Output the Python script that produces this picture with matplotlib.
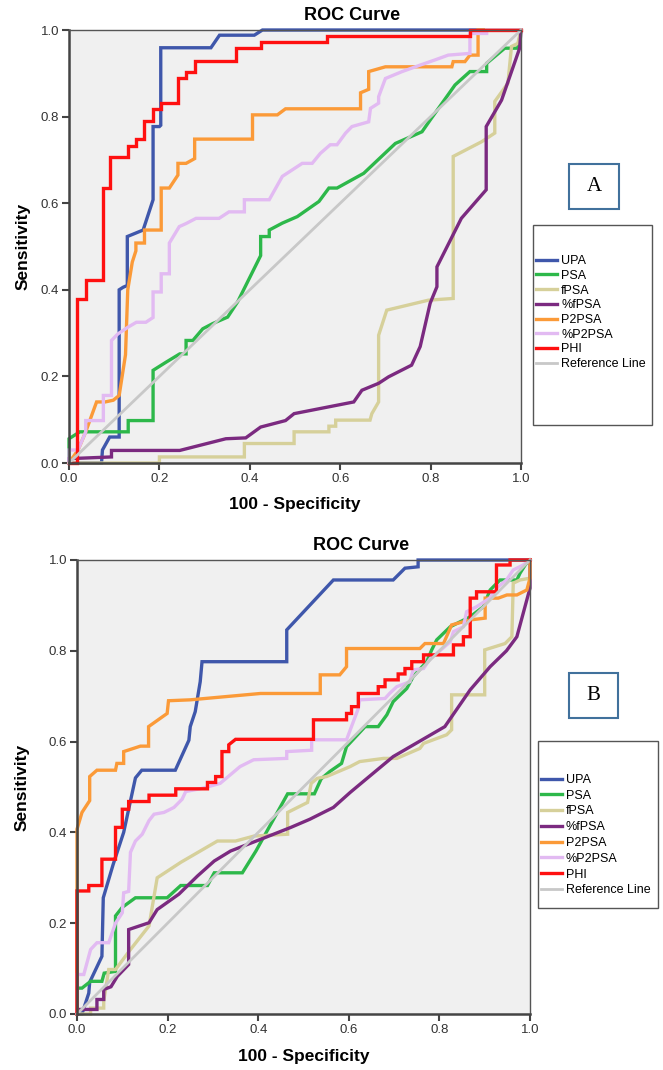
import matplotlib
matplotlib.use("Agg")
import matplotlib.pyplot as plt
from matplotlib.patches import Rectangle

plt.rcParams['font.family'] = ['Liberation Sans', 'DejaVu Sans']

labels = ['UPA', 'PSA', 'fPSA', '%fPSA', 'P2PSA', '%P2PSA', 'PHI', 'Reference Line']
colors = ['#3f57ab', '#2db84a', '#d6d09a', '#7b2a80', '#fb9a38', '#e2baf2', '#ff1010', '#c8c8c8']

# ---- panel A ----
a_upa_x = [0, 0.072, 0.074, 0.09, 0.111, 0.111, 0.12, 0.129, 0.129, 0.164, 0.186, 0.186, 0.2, 0.203, 0.203, 0.314, 0.333, 0.41, 0.428, 1.0]
a_upa_y = [0, 0, 0.03, 0.06, 0.06, 0.40, 0.406, 0.41, 0.523, 0.538, 0.608, 0.777, 0.777, 0.78, 0.959, 0.959, 0.988, 0.988, 1.0, 1.0]

a_psa_x = [0, 0, 0.024, 0.131, 0.131, 0.186, 0.186, 0.215, 0.245, 0.259, 0.259, 0.274, 0.296, 0.318, 0.351, 0.373, 0.424, 0.424, 0.443, 0.443,
           0.472, 0.505, 0.553, 0.575, 0.593, 0.652, 0.722, 0.781, 0.799, 0.854, 0.887, 0.924, 0.924, 0.964, 0.993, 1.0]
a_psa_y = [0, 0.056, 0.072, 0.072, 0.098, 0.098, 0.214, 0.233, 0.252, 0.252, 0.283, 0.283, 0.31, 0.322, 0.337, 0.372, 0.479, 0.523, 0.523, 0.538,
           0.554, 0.569, 0.604, 0.635, 0.635, 0.669, 0.738, 0.765, 0.792, 0.873, 0.904, 0.904, 0.923, 0.958, 0.958, 1.0]

a_fpsa_x = [0, 0.2, 0.2, 0.388, 0.388, 0.498, 0.498, 0.575, 0.575, 0.59, 0.59, 0.666, 0.67, 0.685, 0.685, 0.703, 0.795, 0.85, 0.85,
            0.913, 0.942, 0.942, 0.971, 0.979, 0.993, 1.0]
a_fpsa_y = [0, 0, 0.014, 0.014, 0.045, 0.045, 0.072, 0.072, 0.085, 0.085, 0.099, 0.099, 0.114, 0.141, 0.295, 0.353, 0.376, 0.38, 0.708,
            0.742, 0.762, 0.835, 0.877, 0.962, 0.969, 1.0]

a_pfpsa_x = [0, 0, 0.094, 0.094, 0.245, 0.347, 0.391, 0.424, 0.479, 0.498, 0.630, 0.648, 0.685, 0.707, 0.758, 0.777, 0.799, 0.814,
             0.814, 0.868, 0.923, 0.923, 0.957, 0.997, 1.0]
a_pfpsa_y = [0, 0.01, 0.014, 0.029, 0.029, 0.056, 0.058, 0.083, 0.098, 0.114, 0.141, 0.168, 0.184, 0.199, 0.226, 0.269, 0.369, 0.407,
             0.453, 0.565, 0.631, 0.777, 0.838, 0.958, 1.0]

a_p2psa_x = [0, 0.02, 0.037, 0.061, 0.08, 0.098, 0.111, 0.125, 0.13, 0.14, 0.148, 0.148, 0.167, 0.167, 0.204, 0.204, 0.222, 0.241,
             0.241, 0.259, 0.278, 0.278, 0.406, 0.406, 0.461, 0.479, 0.645, 0.645, 0.663, 0.663, 0.70, 0.847, 0.85, 0.876, 0.887,
             0.905, 0.905, 1.0]
a_p2psa_y = [0, 0.03, 0.072, 0.141, 0.141, 0.145, 0.156, 0.25, 0.40, 0.464, 0.49, 0.508, 0.508, 0.538, 0.538, 0.635, 0.635, 0.665,
             0.692, 0.692, 0.703, 0.748, 0.748, 0.804, 0.804, 0.818, 0.818, 0.855, 0.863, 0.904, 0.915, 0.915, 0.927, 0.927, 0.942,
             0.942, 1.0, 1.0]

a_pp2psa_x = [0, 0, 0.02, 0.037, 0.037, 0.076, 0.076, 0.094, 0.094, 0.108, 0.131, 0.149, 0.17, 0.186, 0.186, 0.204, 0.204, 0.222,
              0.222, 0.244, 0.259, 0.281, 0.332, 0.354, 0.388, 0.388, 0.443, 0.472, 0.516, 0.538, 0.556, 0.578, 0.593, 0.612,
              0.626, 0.663, 0.667, 0.685, 0.685, 0.70, 0.737, 0.777, 0.81, 0.839, 0.887, 0.887, 0.924, 0.924, 1.0]
a_pp2psa_y = [0, 0.03, 0.03, 0.072, 0.098, 0.098, 0.156, 0.156, 0.283, 0.298, 0.314, 0.325, 0.325, 0.336, 0.395, 0.395, 0.437,
              0.437, 0.508, 0.546, 0.553, 0.565, 0.565, 0.58, 0.58, 0.608, 0.608, 0.662, 0.692, 0.692, 0.715, 0.735, 0.735,
              0.762, 0.777, 0.788, 0.819, 0.831, 0.846, 0.888, 0.904, 0.919, 0.931, 0.942, 0.946, 0.992, 0.992, 1.0, 1.0]

a_phi_x = [0, 0.018, 0.018, 0.037, 0.037, 0.075, 0.075, 0.09, 0.09, 0.131, 0.131, 0.149, 0.149, 0.167, 0.167, 0.186, 0.186, 0.203,
           0.203, 0.241, 0.241, 0.259, 0.259, 0.278, 0.278, 0.369, 0.369, 0.424, 0.424, 0.571, 0.571, 0.887, 0.887, 1.0]
a_phi_y = [0, 0.0, 0.379, 0.379, 0.422, 0.422, 0.635, 0.635, 0.706, 0.706, 0.733, 0.733, 0.748, 0.748, 0.79, 0.79, 0.818, 0.818,
           0.832, 0.832, 0.888, 0.888, 0.904, 0.904, 0.929, 0.929, 0.959, 0.959, 0.973, 0.973, 0.986, 0.986, 1.0, 1.0]

# ---- panel B ----
b_upa_x = [0, 0.011, 0.026, 0.028, 0.055, 0.058, 0.08, 0.103, 0.129, 0.143, 0.217, 0.247, 0.25, 0.261, 0.272, 0.276, 0.463, 0.463,
           0.566, 0.698, 0.724, 0.753, 0.753, 1.0]
b_upa_y = [0, 0, 0.046, 0.07, 0.127, 0.256, 0.33, 0.4, 0.52, 0.537, 0.537, 0.603, 0.633, 0.666, 0.732, 0.776, 0.776, 0.846,
           0.956, 0.956, 0.982, 0.985, 1.0, 1.0]

b_psa_x = [0, 0, 0.011, 0.03, 0.055, 0.06, 0.085, 0.085, 0.1, 0.129, 0.199, 0.229, 0.288, 0.303, 0.365, 0.395, 0.465, 0.524, 0.539,
           0.558, 0.584, 0.595, 0.636, 0.665, 0.684, 0.698, 0.728, 0.742, 0.772, 0.783, 0.794, 0.824, 0.868, 0.897, 0.912, 0.934,
           0.971, 0.978, 0.99, 1.0]
b_psa_y = [0, 0.057, 0.057, 0.072, 0.072, 0.09, 0.094, 0.216, 0.235, 0.256, 0.256, 0.283, 0.283, 0.311, 0.311, 0.359, 0.485, 0.485,
           0.518, 0.534, 0.552, 0.589, 0.633, 0.633, 0.659, 0.688, 0.717, 0.743, 0.776, 0.802, 0.824, 0.853, 0.875, 0.897, 0.934,
           0.956, 0.956, 0.971, 0.99, 1.0]

b_fpsa_x = [0, 0.03, 0.03, 0.059, 0.059, 0.07, 0.085, 0.118, 0.159, 0.177, 0.229, 0.31, 0.35, 0.391, 0.465, 0.465, 0.509, 0.517,
            0.53, 0.551, 0.603, 0.624, 0.677, 0.706, 0.757, 0.765, 0.816, 0.827, 0.827, 0.9, 0.9, 0.945, 0.96, 0.963, 0.978, 1.0, 1.0]
b_fpsa_y = [0, 0, 0.013, 0.013, 0.028, 0.098, 0.098, 0.142, 0.194, 0.3, 0.334, 0.381, 0.381, 0.392, 0.396, 0.444, 0.466, 0.508,
            0.519, 0.523, 0.545, 0.556, 0.563, 0.563, 0.585, 0.596, 0.615, 0.626, 0.703, 0.703, 0.802, 0.816, 0.831, 0.949, 0.956, 0.96, 1.0]

b_pfpsa_x = [0, 0, 0.044, 0.044, 0.059, 0.059, 0.075, 0.089, 0.114, 0.114, 0.159, 0.177, 0.225, 0.266, 0.303, 0.339, 0.406, 0.472,
             0.514, 0.566, 0.603, 0.639, 0.698, 0.812, 0.868, 0.912, 0.948, 0.971, 1.0, 1.0]
b_pfpsa_y = [0, 0.01, 0.01, 0.032, 0.032, 0.054, 0.06, 0.083, 0.109, 0.186, 0.201, 0.23, 0.264, 0.304, 0.337, 0.359, 0.385, 0.411,
             0.429, 0.455, 0.488, 0.518, 0.567, 0.633, 0.714, 0.765, 0.8, 0.831, 0.938, 1.0]

b_p2psa_x = [0, 0, 0.011, 0.028, 0.028, 0.044, 0.085, 0.088, 0.103, 0.103, 0.14, 0.158, 0.158, 0.199, 0.202, 0.25, 0.405, 0.537,
             0.537, 0.58, 0.595, 0.595, 0.757, 0.768, 0.809, 0.827, 0.853, 0.868, 0.901, 0.901, 0.93, 0.949, 0.971, 0.993, 1.0, 1.0]
b_p2psa_y = [0, 0.407, 0.444, 0.47, 0.523, 0.537, 0.537, 0.552, 0.552, 0.578, 0.59, 0.59, 0.633, 0.662, 0.69, 0.692, 0.706, 0.706,
             0.747, 0.747, 0.765, 0.805, 0.805, 0.816, 0.816, 0.857, 0.864, 0.868, 0.872, 0.916, 0.916, 0.923, 0.923, 0.934, 0.96, 1.0]

b_pp2psa_x = [0, 0, 0.015, 0.03, 0.044, 0.07, 0.085, 0.1, 0.103, 0.114, 0.118, 0.129, 0.144, 0.159, 0.17, 0.192, 0.214, 0.232, 0.24,
              0.276, 0.316, 0.36, 0.39, 0.463, 0.463, 0.518, 0.518, 0.595, 0.621, 0.624, 0.68, 0.69, 0.706, 0.735, 0.742, 0.765,
              0.78, 0.794, 0.824, 0.831, 0.853, 0.86, 0.882, 0.911, 0.926, 0.948, 0.963, 0.985, 1.0]
b_pp2psa_y = [0, 0.087, 0.087, 0.142, 0.157, 0.157, 0.2, 0.223, 0.267, 0.27, 0.356, 0.381, 0.396, 0.426, 0.44, 0.444, 0.455, 0.473,
              0.49, 0.497, 0.508, 0.545, 0.56, 0.563, 0.578, 0.581, 0.604, 0.604, 0.673, 0.692, 0.695, 0.706, 0.721, 0.732, 0.758,
              0.761, 0.783, 0.794, 0.82, 0.842, 0.853, 0.886, 0.897, 0.916, 0.938, 0.956, 0.978, 0.989, 1.0]

b_phi_x = [0, 0, 0.026, 0.026, 0.055, 0.055, 0.085, 0.085, 0.1, 0.1, 0.114, 0.114, 0.159, 0.159, 0.218, 0.218, 0.288, 0.288, 0.306,
           0.306, 0.32, 0.32, 0.335, 0.335, 0.35, 0.522, 0.522, 0.595, 0.595, 0.606, 0.606, 0.621, 0.621, 0.665, 0.665, 0.68, 0.68,
           0.709, 0.709, 0.724, 0.724, 0.739, 0.739, 0.765, 0.765, 0.831, 0.831, 0.853, 0.853, 0.868, 0.868, 0.882, 0.882, 0.926,
           0.926, 0.956, 0.956, 1.0]
b_phi_y = [0, 0.271, 0.271, 0.283, 0.283, 0.341, 0.341, 0.411, 0.411, 0.451, 0.451, 0.468, 0.468, 0.482, 0.482, 0.496, 0.496, 0.51,
           0.51, 0.523, 0.523, 0.578, 0.578, 0.593, 0.605, 0.605, 0.648, 0.648, 0.662, 0.662, 0.677, 0.677, 0.706, 0.706, 0.721,
           0.721, 0.736, 0.736, 0.749, 0.749, 0.761, 0.761, 0.776, 0.776, 0.791, 0.791, 0.813, 0.813, 0.831, 0.831, 0.916, 0.916,
           0.930, 0.930, 0.989, 0.989, 1.0, 1.0]

ref_x = [0, 1]
ref_y = [0, 1]

panel_a = [(a_upa_x, a_upa_y), (a_psa_x, a_psa_y), (a_fpsa_x, a_fpsa_y), (a_pfpsa_x, a_pfpsa_y),
           (a_p2psa_x, a_p2psa_y), (a_pp2psa_x, a_pp2psa_y), (a_phi_x, a_phi_y), (ref_x, ref_y)]
panel_b = [(b_upa_x, b_upa_y), (b_psa_x, b_psa_y), (b_fpsa_x, b_fpsa_y), (b_pfpsa_x, b_pfpsa_y),
           (b_p2psa_x, b_p2psa_y), (b_pp2psa_x, b_pp2psa_y), (b_phi_x, b_phi_y), (ref_x, ref_y)]

W, H = 663, 1070
fig = plt.figure(figsize=(W / 100, H / 100), dpi=100)


def fx(px):
    return px / W


def fy(py):
    return 1 - py / H


def draw_panel(ax, series, title_xy, ylab_x, xlab_y, leg_box, leg_anchor, leg_space, tag, tag_box):
    ax.set_facecolor('#f0f0f0')
    lines = []
    for (xs, ys), c, lab in zip(series, colors, labels):
        lw = 2.0 if lab == 'Reference Line' else 2.4
        ln, = ax.plot(xs, ys, color=c, lw=lw, label=lab, solid_joinstyle='miter', clip_on=False)
        lines.append(ln)
    ax.set_xlim(0, 1)
    ax.set_ylim(0, 1)
    ticks = [0.0, 0.2, 0.4, 0.6, 0.8, 1.0]
    ax.set_xticks(ticks)
    ax.set_yticks(ticks)
    ax.set_xticklabels(['%.1f' % t for t in ticks])
    ax.set_yticklabels(['%.1f' % t for t in ticks])
    ax.tick_params(direction='out', length=5, width=1.5, color='#444444', labelsize=9.5,
                   labelcolor='#333333', pad=2)
    for s in ['left', 'bottom']:
        ax.spines[s].set_color('#444444')
        ax.spines[s].set_linewidth(1.8)
    for s in ['top', 'right']:
        ax.spines[s].set_color('#555555')
        ax.spines[s].set_linewidth(1.0)
    ax.set_xlabel('100 - Specificity', fontsize=12.5, fontweight='bold')
    ax.set_ylabel('Sensitivity', fontsize=12.5, fontweight='bold')
    ax.xaxis.set_label_coords(0.5, xlab_y)
    ax.yaxis.set_label_coords(ylab_x, 0.5)

    fig.text(fx(title_xy[0]), fy(title_xy[1]), 'ROC Curve', fontsize=13, fontweight='bold',
             ha='center', va='center')

    x0, y0, x1, y1 = leg_box
    fig.patches.append(Rectangle((fx(x0), fy(y1)), fx(x1 - x0), (y1 - y0) / H, transform=fig.transFigure,
                                 facecolor='white', edgecolor='#555555', lw=1.0))
    fig.legend(handles=lines, loc='upper left', bbox_to_anchor=(fx(leg_anchor[0]), fy(leg_anchor[1])),
               frameon=False, fontsize=9, handlelength=1.7, handletextpad=0.3, labelspacing=leg_space,
               borderpad=0, borderaxespad=0)

    tx0, ty0, tx1, ty1 = tag_box
    fig.patches.append(Rectangle((fx(tx0), fy(ty1)), fx(tx1 - tx0), (ty1 - ty0) / H, transform=fig.transFigure,
                                 facecolor='white', edgecolor='#41719c', lw=1.5))
    fig.text(fx((tx0 + tx1) / 2), fy((ty0 + ty1) / 2), tag, fontsize=15, family='Liberation Serif',
             ha='center', va='center')


axA = fig.add_axes([fx(69), fy(463), fx(521 - 69), (463 - 30) / H])
axB = fig.add_axes([fx(77), fy(1014), fx(530 - 77), (1014 - 560) / H])

draw_panel(axA, panel_a, (352, 15), -0.086, -0.078, (533, 225, 652, 425), (536, 255), 0.22, 'A',
           (569, 164, 619, 209))
draw_panel(axB, panel_b, (361, 545), -0.104, -0.076, (538, 741, 658, 908), (541, 774), 0.3, 'B',
           (569, 673, 618, 718))

fig.savefig('out.png', dpi=100)
